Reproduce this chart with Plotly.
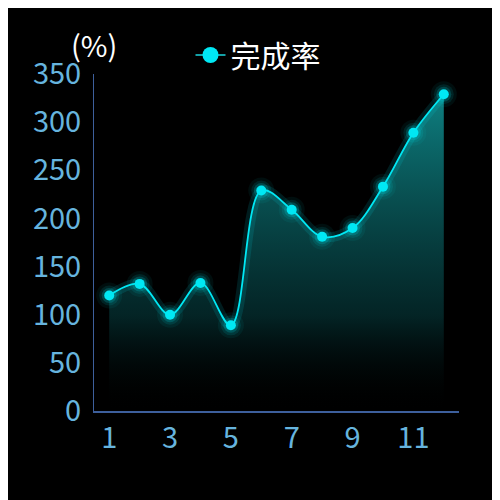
import plotly.graph_objects as go

# data
months = [1, 2, 3, 4, 5, 6, 7, 8, 9, 10, 11, 12]
rate = [120, 132, 100, 133, 89, 229, 209, 181, 190, 233, 289, 329]
x_ticks = [1, 3, 5, 7, 9, 11]
y_ticks = [0, 50, 100, 150, 200, 250, 300, 350]

CYAN = "#00e8f4"
AXIS = "#3d5f9c"
LABEL = "#66b4de"
FONT = "Noto Sans CJK SC"

# the page body adds an 8px offset, margins are set with that in mind
W, H = 500, 500
ML, MR, MT, MB = 86, 49, 66, 97

fig = go.Figure()

# gradient area under the curve
fig.add_trace(go.Scatter(
    x=months, y=rate, mode="lines", line=dict(width=0, shape="spline"),
    fill="tozeroy",
    fillgradient=dict(type="vertical", colorscale=[
        [0, "rgba(0,0,0,0)"], [0.3, "rgba(6,60,62,0.6)"], [1, "rgba(16,150,152,0.85)"]]),
    hoverinfo="skip", showlegend=False))

# glow around line and points
fig.add_trace(go.Scatter(
    x=months, y=rate, mode="lines",
    line=dict(color="rgba(0,232,244,0.12)", width=10, shape="spline"),
    hoverinfo="skip", showlegend=False))
for size, op in [(26, 0.06), (20, 0.1), (15, 0.18)]:
    fig.add_trace(go.Scatter(
        x=months, y=rate, mode="markers",
        marker=dict(color=CYAN, size=size, opacity=op, line=dict(width=0)),
        hoverinfo="skip", showlegend=False))

fig.add_trace(go.Scatter(
    x=months, y=rate, mode="lines+markers", name="完成率",
    line=dict(color=CYAN, width=1.8, shape="spline"),
    marker=dict(color=CYAN, size=10, line=dict(width=0)),
    showlegend=False))

# legend entry only (dimmer line, bigger dot like the reference)
fig.add_trace(go.Scatter(
    x=[None], y=[None], mode="lines+markers", name="完成率",
    line=dict(color="#14a0a6", width=2),
    marker=dict(color=CYAN, size=16, line=dict(width=0))))

fig.add_annotation(text="(%)", xref="paper", yref="paper", x=0, y=1,
                   xanchor="center", yanchor="middle", xshift=0, yshift=30,
                   showarrow=False, font=dict(family=FONT, size=29, color="white"))

fig.update_layout(
    width=W, height=H,
    margin=dict(l=ML, r=MR, t=MT, b=MB, autoexpand=False),
    paper_bgcolor="black", plot_bgcolor="black",
    font=dict(family=FONT, size=29, color=LABEL),
    showlegend=True,
    legend=dict(orientation="h", xref="container", yref="container",
                x=0.5, y=0.906, xanchor="center", yanchor="middle",
                font=dict(family=FONT, size=30, color="white"),
                bgcolor="rgba(0,0,0,0)"),
    xaxis=dict(range=[0.5, 12.5], tickvals=x_ticks, ticktext=[str(v) for v in x_ticks],
               showgrid=False, zeroline=False, showline=True, linecolor=AXIS,
               linewidth=2, ticks="", tickfont=dict(color=LABEL, size=29)),
    yaxis=dict(range=[0, 350], tickvals=y_ticks, showgrid=False, zeroline=False,
               showline=True, linecolor=AXIS, linewidth=1, ticks="",
               ticklabelstandoff=6, tickfont=dict(color=LABEL, size=29)),
)

fig.write_html("out.html")
